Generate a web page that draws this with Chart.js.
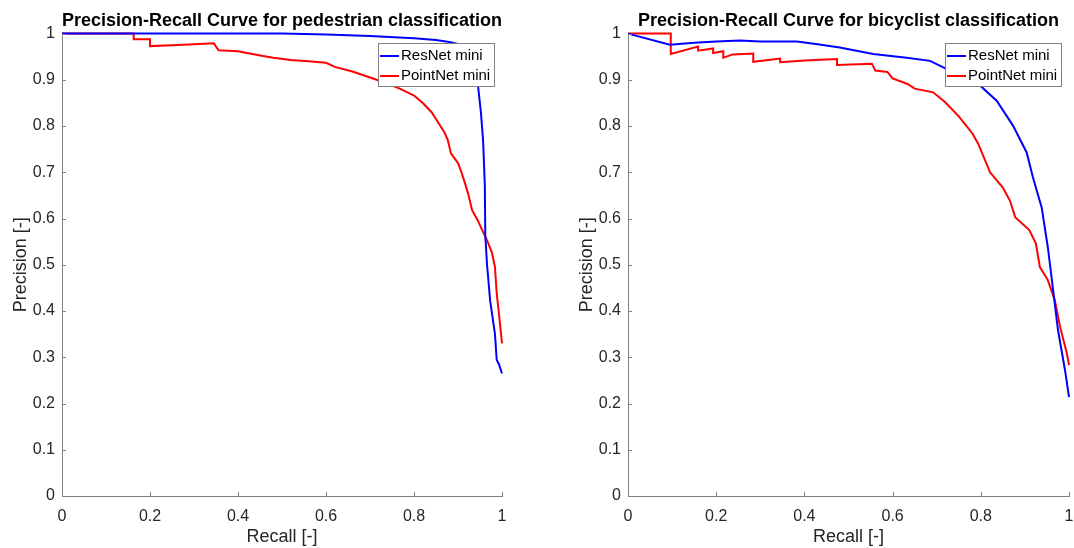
<!DOCTYPE html>
<html>
<head>
<meta charset="utf-8">
<script src="https://cdn.jsdelivr.net/npm/chart.js@4"></script>
<style>
  html, body { margin: 0; padding: 0; background: #fff; }
  #wrap { position: relative; width: 1074px; height: 548px; }
  canvas { position: absolute; top: 0; }
</style>
</head>
<body>
<div id="wrap">
  <canvas id="pedChart" width="537" height="548" style="left:0"></canvas>
  <canvas id="bikeChart" width="508" height="548" style="left:566px"></canvas>
</div>
<script>
// axis ticks shared by both panels
const xTicks = [0, 0.2, 0.4, 0.6, 0.8, 1];
const yTicks = [0, 0.1, 0.2, 0.3, 0.4, 0.5, 0.6, 0.7, 0.8, 0.9, 1];

const seriesNames = ["ResNet mini", "PointNet mini"];

// pedestrian panel
const pedResnetRecall = [0, 0.5, 0.6, 0.7, 0.8, 0.85, 0.88, 0.907, 0.925, 0.937, 0.945, 0.952, 0.957, 0.961, 0.962, 0.966, 0.973, 0.984, 0.988, 0.993, 1.0];
const pedResnetPrec   = [1, 1, 0.998, 0.995, 0.99, 0.986, 0.982, 0.976, 0.965, 0.935, 0.892, 0.83, 0.769, 0.672, 0.564, 0.5, 0.423, 0.35, 0.294, 0.285, 0.265];

const pedPointRecall = [0, 0.163, 0.163, 0.2, 0.2, 0.25, 0.3, 0.345, 0.356, 0.4, 0.42, 0.454, 0.48, 0.52, 0.56, 0.6, 0.62, 0.66, 0.7, 0.74, 0.77, 0.8, 0.82, 0.84, 0.86, 0.87, 0.877, 0.884, 0.9, 0.909, 0.916, 0.923, 0.932, 0.945, 0.955, 0.966, 0.977, 0.984, 0.988, 0.993, 1.0];
const pedPointPrec   = [1, 1, 0.988, 0.988, 0.973, 0.975, 0.977, 0.979, 0.964, 0.962, 0.958, 0.952, 0.948, 0.943, 0.94, 0.937, 0.928, 0.918, 0.905, 0.892, 0.88, 0.866, 0.85, 0.83, 0.8, 0.785, 0.769, 0.741, 0.72, 0.697, 0.676, 0.654, 0.618, 0.596, 0.575, 0.553, 0.527, 0.495, 0.438, 0.395, 0.33];

// bicyclist panel
const bikeResnetRecall = [0, 0.095, 0.15, 0.2, 0.254, 0.3, 0.383, 0.43, 0.48, 0.556, 0.632, 0.685, 0.723, 0.76, 0.798, 0.836, 0.873, 0.904, 0.918, 0.938, 0.952, 0.964, 0.975, 0.991, 1.0];
const bikeResnetPrec   = [1, 0.976, 0.98, 0.983, 0.985, 0.983, 0.983, 0.977, 0.97, 0.956, 0.948, 0.941, 0.923, 0.905, 0.888, 0.855, 0.801, 0.743, 0.69, 0.624, 0.538, 0.445, 0.359, 0.272, 0.214];

const bikePointRecall = [0, 0.097, 0.097, 0.159, 0.159, 0.193, 0.193, 0.216, 0.216, 0.238, 0.284, 0.284, 0.345, 0.345, 0.4, 0.474, 0.474, 0.553, 0.561, 0.588, 0.6, 0.634, 0.65, 0.692, 0.72, 0.75, 0.781, 0.794, 0.821, 0.85, 0.866, 0.878, 0.91, 0.925, 0.934, 0.952, 0.968, 0.98, 0.995, 1.0];
const bikePointPrec   = [1, 1, 0.956, 0.972, 0.963, 0.968, 0.958, 0.962, 0.948, 0.955, 0.957, 0.939, 0.946, 0.938, 0.942, 0.945, 0.932, 0.935, 0.92, 0.917, 0.903, 0.891, 0.881, 0.873, 0.851, 0.821, 0.784, 0.762, 0.70, 0.667, 0.639, 0.603, 0.575, 0.546, 0.495, 0.467, 0.423, 0.365, 0.309, 0.283];

const FONT = '"Liberation Sans", Arial, Helvetica, sans-serif';
const TEXT = "#262626";
const AXIS = "#808080";

function toPoints(xs, ys) {
  return xs.map((x, i) => ({ x: x, y: ys[i] }));
}

// "0", "0.1", ... "1" like the plotting tool prints them
const tickText = v => String(Math.round(v * 10) / 10);

// inward tick marks and a boxed legend on top of the curves
const matlabLook = {
  id: "matlabLook",
  afterDatasetsDraw(chart) {
    const { ctx, chartArea, scales } = chart;
    ctx.save();
    ctx.strokeStyle = AXIS;
    ctx.lineWidth = 1;
    ctx.beginPath();
    xTicks.forEach(v => {
      const px = Math.round(scales.x.getPixelForValue(v)) + 0.5;
      ctx.moveTo(px, chartArea.bottom);
      ctx.lineTo(px, chartArea.bottom - 4);
    });
    yTicks.forEach(v => {
      const py = Math.round(scales.y.getPixelForValue(v)) + 0.5;
      ctx.moveTo(chartArea.left, py);
      ctx.lineTo(chartArea.left + 4, py);
    });
    ctx.stroke();

    const w = 116, h = 43;
    const x0 = Math.round(chartArea.right - 8 - w);
    const y0 = Math.round(chartArea.top + 9);
    ctx.fillStyle = "#fff";
    ctx.fillRect(x0, y0, w, h);
    ctx.strokeStyle = AXIS;
    ctx.strokeRect(x0 + 0.5, y0 + 0.5, w, h);
    ctx.font = "15px " + FONT;
    ctx.textBaseline = "middle";
    chart.data.datasets.forEach((ds, i) => {
      const cy = y0 + 13 + i * 20;
      ctx.strokeStyle = ds.borderColor;
      ctx.lineWidth = 2;
      ctx.beginPath();
      ctx.moveTo(x0 + 2, cy);
      ctx.lineTo(x0 + 21, cy);
      ctx.stroke();
      ctx.fillStyle = "#000";
      ctx.fillText(ds.label, x0 + 23, cy);
    });
    ctx.restore();
  }
};

function makeChart(id, title, resnet, pointnet, padRight) {
  const line = (label, pts, color) => ({
    label: label,
    data: pts,
    borderColor: color,
    backgroundColor: color,
    borderWidth: 2,
    pointRadius: 0,
    showLine: true,
    fill: false,
    tension: 0,
    clip: 4
  });

  return new Chart(document.getElementById(id), {
    type: "scatter",
    data: {
      datasets: [
        line(seriesNames[0], resnet, "#0000ff"),
        line(seriesNames[1], pointnet, "#ff0000")
      ]
    },
    options: {
      responsive: false,
      animation: false,
      devicePixelRatio: 1,
      layout: { padding: { left: 0, right: padRight, top: 0, bottom: 0 } },
      plugins: {
        legend: { display: false },
        tooltip: { enabled: false },
        title: {
          display: true,
          text: title,
          fullSize: false,
          color: "#000",
          font: { family: FONT, size: 18, weight: "bold" },
          padding: { top: 10, bottom: 2 }
        }
      },
      scales: {
        x: {
          type: "linear",
          min: 0,
          max: 1,
          grid: { display: false, drawTicks: false },
          border: { display: true, color: AXIS, width: 1 },
          ticks: { color: TEXT, padding: 11, maxRotation: 0, autoSkip: false, font: { family: FONT, size: 16 }, callback: tickText },
          title: { display: true, text: "Recall [-]", color: TEXT, font: { family: FONT, size: 18 }, padding: { top: 0, bottom: 0 } },
          afterBuildTicks: s => { s.ticks = xTicks.map(v => ({ value: v })); },
          afterFit: s => { s.height = 52; s.paddingLeft = 0; s.paddingRight = 0; }
        },
        y: {
          type: "linear",
          min: 0,
          max: 1,
          grid: { display: false, drawTicks: false },
          border: { display: true, color: AXIS, width: 1 },
          ticks: { color: TEXT, padding: 7, autoSkip: false, font: { family: FONT, size: 16 }, callback: tickText },
          title: { display: true, text: "Precision [-]", color: TEXT, font: { family: FONT, size: 18 }, padding: { top: 10, bottom: 0 } },
          afterBuildTicks: s => { s.ticks = yTicks.map(v => ({ value: v })); },
          afterFit: s => { s.width = 62; s.paddingTop = 0; s.paddingBottom = 0; }
        }
      }
    },
    plugins: [matlabLook]
  });
}

makeChart("pedChart", "Precision-Recall Curve for pedestrian classification",
  toPoints(pedResnetRecall, pedResnetPrec), toPoints(pedPointRecall, pedPointPrec), 35);
makeChart("bikeChart", "Precision-Recall Curve for bicyclist classification",
  toPoints(bikeResnetRecall, bikeResnetPrec), toPoints(bikePointRecall, bikePointPrec), 5);
</script>
</body>
</html>
